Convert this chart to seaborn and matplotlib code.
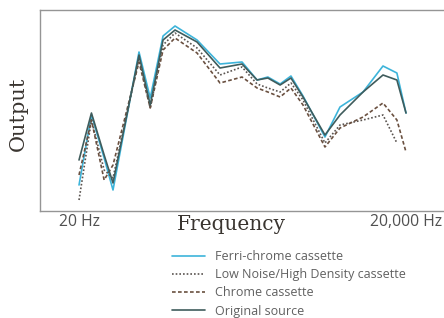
import numpy as np
import pandas as pd
import seaborn as sns
import matplotlib.pyplot as plt


# frequency points (Hz)
freq = [20, 26, 34, 41, 71, 90, 118, 152, 242, 393, 626, 860, 1080,
        1400, 1760, 2270, 3610, 4960, 8070, 12300, 16500, 20000]

# output (arbitrary units, 0 = bottom of frame)
ferri_chrome = [13, 48, 26.5, 10.5, 79.5, 56.5, 87.5, 92.5, 85.5, 73.5, 74.5,
                65.5, 67, 63.5, 67.5, 57.5, 37, 52, 59.5, 72.5, 69, 49]
low_noise = [5.5, 45.5, 20.5, 16.5, 76.5, 51.5, 83, 89, 81.5, 68, 72,
             63.5, 61.5, 59.5, 64, 55.5, 34, 43, 45.5, 48, 34, np.nan]
chrome = [18, 45.5, 15.5, 23, 74.5, 51.5, 80.5, 86.5, 79, 64, 67,
          61.5, 59.5, 57, 61.5, 53, 32, 41.5, 47, 54, 45.5, 29.5]
original = [25.5, 49, 28, 14, 78, 53, 85.5, 90.5, 84.5, 71.5, 73.5,
            65.5, 66.5, 63, 66.5, 57, 38, 48, 59.5, 68, 65.5, 49]

series_names = ["Ferri-chrome cassette", "Low Noise/High Density cassette",
                "Chrome cassette", "Original source"]
tick_vals = [20, 20000]
tick_labels = ["20 Hz", "20,000 Hz"]

df = pd.concat([
    pd.DataFrame({"freq": freq, "output": vals, "series": name})
    for name, vals in zip(series_names, [ferri_chrome, low_noise, chrome, original])
], ignore_index=True)

sns.set_style("white")
plt.rcParams["font.family"] = ["Open Sans", "DejaVu Sans"]

palette = {
    "Ferri-chrome cassette": "#3db4da",
    "Low Noise/High Density cassette": "#5a5450",
    "Chrome cassette": "#6a5040",
    "Original source": "#3f5c5c",
}
dashes = {
    "Ferri-chrome cassette": "",
    "Low Noise/High Density cassette": (1, 1.2),
    "Chrome cassette": (2.2, 1.4),
    "Original source": "",
}

fig = plt.figure(figsize=(4.44, 3.18), dpi=100)
ax = fig.add_axes([40 / 444, 1 - 211 / 318, 404 / 444, 201 / 318])

sns.lineplot(data=df, x="freq", y="output", hue="series", style="series",
             palette=palette, dashes=dashes, hue_order=series_names,
             style_order=series_names, linewidth=1.2, ax=ax)
for line in ax.lines:
    if line.get_label() == "Ferri-chrome cassette":
        line.set_linewidth(1.6)

ax.set_xscale("log")
ax.set_xlim(8.77, 44630)
ax.set_ylim(0, 100.5)
ax.set_yticks([])
ax.set_xticks(tick_vals)
ax.set_xticklabels(tick_labels)
ax.minorticks_off()
ax.tick_params(axis="x", direction="in", length=5, width=0.9, color="#888888",
               labelsize=11.3, labelcolor="#505050", pad=2)

for side in ["left", "top", "bottom"]:
    ax.spines[side].set_color("#959595")
    ax.spines[side].set_linewidth(1.0)
ax.spines["right"].set_visible(False)

ax.set_xlabel("Frequency", fontsize=14.5, family="DejaVu Serif", color="#3a3530")
ax.xaxis.set_label_coords(0.473, -0.02)
ax.set_ylabel("Output", fontsize=15, family="DejaVu Serif", color="#3a3530")
ax.yaxis.set_label_coords(-0.03, 0.485)

sns.move_legend(ax, loc="upper left", bbox_to_anchor=(172 / 444, 1 - 250 / 318),
                bbox_transform=fig.transFigure, frameon=False, title=None,
                fontsize=9, handlelength=2.6, handletextpad=0.8,
                labelspacing=0.42, borderpad=0, borderaxespad=0)
for txt in ax.get_legend().get_texts():
    txt.set_color("#606060")

fig.savefig("out.png", dpi=100)
